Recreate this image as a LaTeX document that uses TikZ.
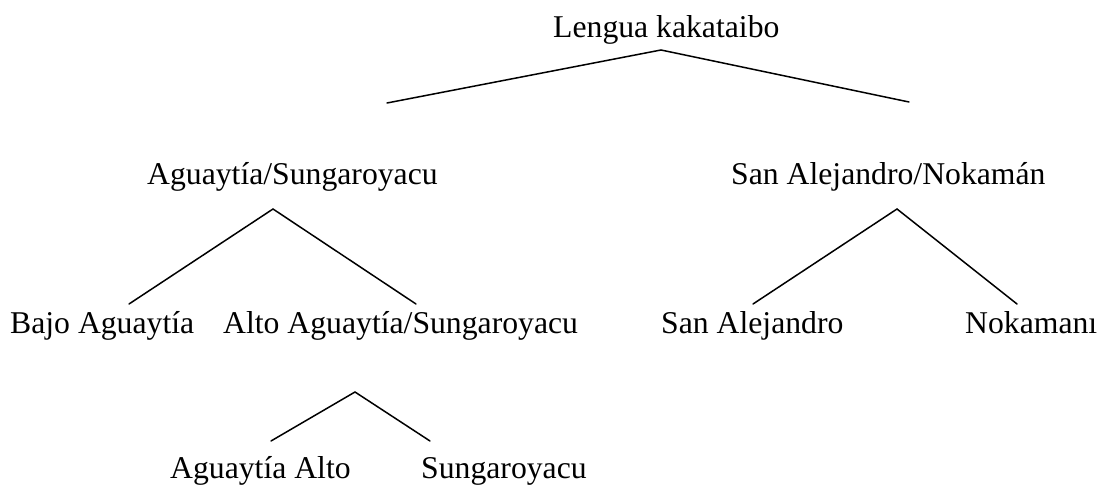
\documentclass[tikz,border=0pt]{standalone}
\usepackage{fontspec}
\setmainfont{Liberation Serif}
\begin{document}
\begin{tikzpicture}[x=1pt,y=-1pt,
  lbl/.style={anchor=base west,inner sep=0pt,font=\fontsize{31.7}{36}\selectfont},
  br/.style={line width=1.5pt,line cap=round}]
\useasboundingbox (0,0) rectangle (1099,486);
% labels
\node[lbl] (root) at (553,38) {Lengua kakataibo};
\node[lbl] (ag) at (147,185) {Aguaytía/Sungaroyacu};
\node[lbl] (sa) at (731,185) {San Alejandro/Nokamán};
\node[lbl] (bajo) at (10,333) {Bajo Aguaytía};
\node[lbl] (alto) at (223,333) {Alto Aguaytía/Sungaroyacu};
\node[lbl] (sal) at (661,333) {San Alejandro};
\node[lbl] (nok) at (965,333) {Nokamanı};
\node[lbl] (agalto) at (170,478) {Aguaytía Alto};
\node[lbl] (sung) at (421,478) {Sungaroyacu};
% branch points
\coordinate (rootB) at (661,50);
\coordinate (agT) at (387,103);
\coordinate (saT) at (909,102);
\coordinate (agB) at (273,209);
\coordinate (bajoT) at (129,304);
\coordinate (altoT) at (416,304);
\coordinate (saB) at (897,209);
\coordinate (salT) at (753,304);
\coordinate (nokT) at (1017,304);
\coordinate (altoB) at (355,392);
\coordinate (agaltoT) at (271,441);
\coordinate (sungT) at (430,441);
% connectors
\draw[br] (agT) -- (rootB) -- (saT);
\draw[br] (bajoT) -- (agB) -- (altoT);
\draw[br] (salT) -- (saB) -- (nokT);
\draw[br] (agaltoT) -- (altoB) -- (sungT);
\end{tikzpicture}
\end{document}
